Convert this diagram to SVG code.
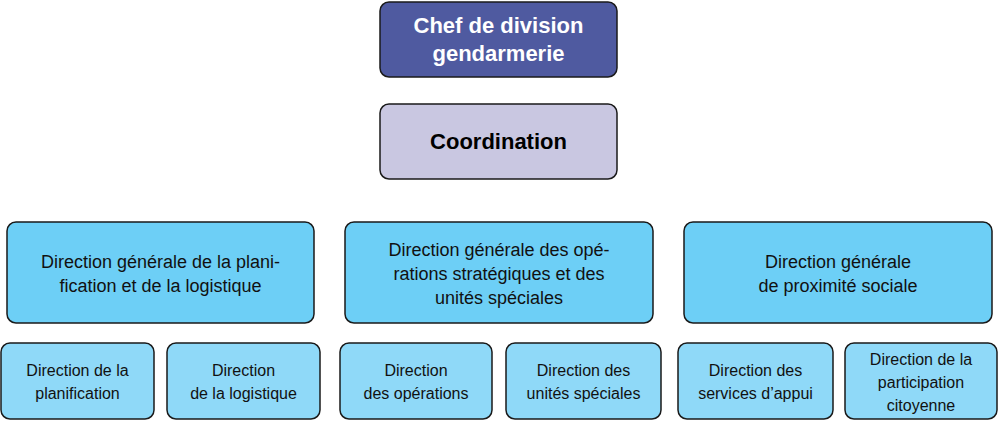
<svg xmlns="http://www.w3.org/2000/svg" width="999" height="421" viewBox="0 0 999 421">
<style>
rect{stroke:#1a1a1a;stroke-width:1.5}
text{font-family:"Liberation Sans",Arial,sans-serif;text-anchor:middle}
.t{font-size:22px;font-weight:bold}
.m{font-size:18px;fill:#111}
.s{font-size:16px;fill:#111}
.dg{fill:#6dcff6}
.d{fill:#8fd9f8}
</style>
<rect width="999" height="421" fill="#fff" style="stroke:none"/>
<g id="chef"><rect x="380" y="2" width="237" height="75" rx="9" fill="#4f5aa0"/><text class="t" x="498.5" y="33" fill="#fff">Chef de division</text><text class="t" x="498.5" y="61" fill="#fff">gendarmerie</text></g>
<g id="coord"><rect x="380" y="104" width="237" height="75" rx="9" fill="#c9c7e1"/><text class="t" x="498.5" y="149" fill="#000">Coordination</text></g>
<g id="connectors"></g>
<g id="dg1"><rect class="dg" x="7" y="222" width="307" height="101" rx="9"/><text class="m" x="160.5" y="268">Direction générale de la plani-</text><text class="m" x="160.5" y="292">fication et de la logistique</text></g>
<g id="dg2"><rect class="dg" x="345" y="222" width="308" height="101" rx="9"/><text class="m" x="499" y="256">Direction générale des opé-</text><text class="m" x="499" y="280">rations stratégiques et des</text><text class="m" x="499" y="304">unités spéciales</text></g>
<g id="dg3"><rect class="dg" x="684" y="222" width="308" height="101" rx="9"/><text class="m" x="838" y="268">Direction générale</text><text class="m" x="838" y="292">de proximité sociale</text></g>
<g id="d1"><rect class="d" x="1" y="343" width="153" height="76" rx="9"/><text class="s" x="77.5" y="376">Direction de la</text><text class="s" x="77.5" y="399">planification</text></g>
<g id="d2"><rect class="d" x="167" y="343" width="153" height="76" rx="9"/><text class="s" x="243.5" y="376">Direction</text><text class="s" x="243.5" y="399">de la logistique</text></g>
<g id="d3"><rect class="d" x="340" y="343" width="152" height="76" rx="9"/><text class="s" x="416" y="376">Direction</text><text class="s" x="416" y="399">des opérations</text></g>
<g id="d4"><rect class="d" x="506" y="343" width="155" height="76" rx="9"/><text class="s" x="583.5" y="376">Direction des</text><text class="s" x="583.5" y="399">unités spéciales</text></g>
<g id="d5"><rect class="d" x="678" y="343" width="155" height="76" rx="9"/><text class="s" x="755.5" y="376">Direction des</text><text class="s" x="755.5" y="399">services d’appui</text></g>
<g id="d6"><rect class="d" x="845" y="343" width="152" height="76" rx="9"/><text class="s" x="921" y="365">Direction de la</text><text class="s" x="921" y="388">participation</text><text class="s" x="921" y="411">citoyenne</text></g>
</svg>
